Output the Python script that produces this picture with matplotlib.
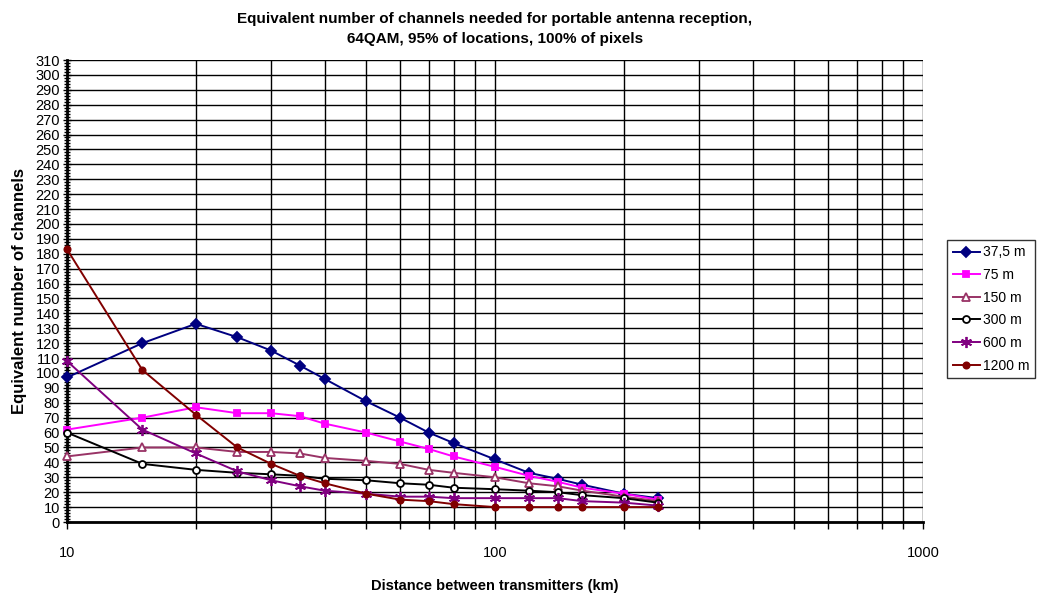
import matplotlib
matplotlib.use("Agg")
import matplotlib.pyplot as plt
import numpy as np
from matplotlib.ticker import MultipleLocator, LogLocator, NullFormatter, FixedLocator

plt.rcParams['font.family'] = ['Liberation Sans', 'DejaVu Sans']

# distance between transmitters (km)
distances = [10, 15, 20, 25, 30, 35, 40, 50, 60, 70, 80, 100, 120, 140, 160, 200, 240]

ch_37_5 = [97, 120, 133, 124, 115, 105, 96, 81, 70, 60, 53, 42, 33, 29, 25, 19, 16]
ch_75 = [62, 70, 77, 73, 73, 71, 66, 60, 54, 49, 44, 37, 31, 27, 23, 19, 15]
ch_150 = [44, 50, 50, 47, 47, 46, 43, 41, 39, 35, 33, 30, 26, 24, 21, 17, 14]
ch_300 = [60, 39, 35, 33, 32, 31, 29, 28, 26, 25, 23, 22, 21, 20, 18, 16, 13]
ch_600 = [108, 62, 46, 34, 28, 24, 21, 19, 17, 17, 16, 16, 16, 16, 14, 13, 11]
ch_1200 = [183, 102, 72, 50, 39, 31, 26, 19, 15, 14, 12, 10, 10, 10, 10, 10, 10]

labels = ['37,5 m', '75 m', '150 m', '300 m', '600 m', '1200 m']

fig = plt.figure(figsize=(10.42, 6.07), dpi=100)
ax = fig.add_axes([67 / 1042, 85 / 607, 856 / 1042, 462 / 607])

# series: (values, colour, marker, face colour, marker size)
series = [
    (ch_37_5, '#000080', 'D', '#000080', 5),
    (ch_75, '#FF00FF', 's', '#FF00FF', 5),
    (ch_150, '#993366', '^', 'white', 6),
    (ch_300, '#000000', 'o', 'white', 5),
    (ch_600, '#800080', (6, 2, 0), '#800080', 8),
    (ch_1200, '#800000', 'o', '#800000', 4.5),
]
for (vals, col, mk, fc, ms), lab in zip(series, labels):
    ax.plot(distances, vals, color=col, lw=1.4, marker=mk, mfc=fc, mec=col,
            mew=1.3, ms=ms, label=lab, zorder=3, clip_on=False)

ax.set_xscale('log')
ax.set_xlim(10, 1000)
ax.set_ylim(0, 310)

ax.yaxis.set_major_locator(MultipleLocator(10))
ax.yaxis.set_minor_locator(MultipleLocator(2))
ax.xaxis.set_major_locator(FixedLocator([10, 100, 1000]))
ax.xaxis.set_major_formatter(plt.FuncFormatter(lambda v, p: '%d' % v))
ax.xaxis.set_minor_locator(LogLocator(base=10, subs=np.arange(2, 10)))
ax.xaxis.set_minor_formatter(NullFormatter())

ax.grid(True, which='major', axis='y', color='black', lw=1)
ax.grid(True, which='both', axis='x', color='black', lw=1)
ax.set_axisbelow(True)

ax.tick_params(axis='y', which='major', direction='inout', length=6, width=1,
               labelsize=10.5, pad=2)
ax.tick_params(axis='y', which='minor', direction='inout', length=4, width=1)
ax.tick_params(axis='x', which='both', direction='out', length=5, width=1,
               labelsize=10.5, pad=12)

for s in ['top', 'right']:
    ax.spines[s].set_visible(False)
ax.spines['left'].set_linewidth(2)
ax.spines['bottom'].set_linewidth(2)

ax.set_xlabel('Distance between transmitters (km)', fontsize=10.5, fontweight='bold',
              labelpad=14)
ax.set_ylabel('Equivalent number of channels', fontsize=12, fontweight='bold',
              labelpad=6)
fig.text(495 / 1042, 1 - 29 / 607,
         'Equivalent number of channels needed for portable antenna reception,\n'
         '64QAM, 95% of locations, 100% of pixels',
         ha='center', va='center', fontsize=11, fontweight='bold', linespacing=1.5)

leg = fig.legend(loc='center left', bbox_to_anchor=(947 / 1042, 1 - 309 / 607),
                 fontsize=10, frameon=True, fancybox=False, edgecolor='black',
                 handlelength=2.0, handletextpad=0.2, borderpad=0.4,
                 labelspacing=0.62, borderaxespad=0)
leg.get_frame().set_linewidth(1)

fig.savefig('out.png', dpi=100)
